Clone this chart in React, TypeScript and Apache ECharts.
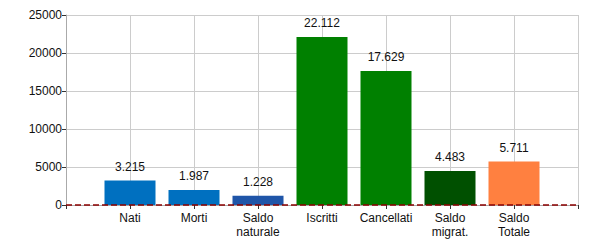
import React, { useEffect, useRef } from "react";
import * as echarts from "echarts";

const categories = ["", "Nati", "Morti", "Saldo\nnaturale", "Iscritti", "Cancellati", "Saldo\nmigrat.", "Saldo\nTotale", ""];
const values: (number | null)[] = [null, 3215, 1987, 1228, 22112, 17629, 4483, 5711, null];
const barColors = ["#0070c0", "#0070c0", "#0070c0", "#1f55a8", "#008000", "#008000", "#005000", "#ff8040", "#000"];
const yTicks = { min: 0, max: 25000, interval: 5000 };

const fmt = (v: number) => v.toString().replace(/\B(?=(\d{3})+(?!\d))/g, ".");

export default function App() {
  const ref = useRef<HTMLDivElement>(null);
  useEffect(() => {
    const chart = echarts.init(ref.current!, null, { renderer: "svg" });
    const font = "Arial, 'Liberation Sans', sans-serif";
    chart.setOption({
      animation: false,
      grid: { left: 66, right: 22, top: 15, bottom: 45, containLabel: false },
      xAxis: {
        type: "category",
        data: categories,
        boundaryGap: false,
        axisLine: { lineStyle: { color: "#aaa" } },
        axisTick: { show: true, length: 4, lineStyle: { color: "#333" } },
        axisLabel: { color: "#111", fontSize: 12, fontFamily: font, margin: 6, lineHeight: 14, interval: 0 },
        splitLine: { show: true, lineStyle: { color: "#ccc", width: 1 } },
      },
      yAxis: {
        type: "value",
        min: yTicks.min,
        max: yTicks.max,
        interval: yTicks.interval,
        axisLine: { show: true, lineStyle: { color: "#aaa" } },
        axisTick: { show: true, length: 4, lineStyle: { color: "#333" } },
        axisLabel: { color: "#111", fontSize: 12, fontFamily: font, margin: 4, formatter: (v: number) => String(v) },
        splitLine: { show: true, lineStyle: { color: "#ccc", width: 1 } },
      },
      series: [
        {
          type: "bar",
          barWidth: 51,
          data: values.map((v, i) => ({ value: v, itemStyle: { color: barColors[i] } })),
          label: {
            show: true,
            position: "top",
            distance: 8,
            color: "#111",
            fontSize: 12,
            fontFamily: font,
            formatter: (p: any) => (p.value == null ? "" : fmt(p.value)),
          },
          markLine: {
            silent: true,
            symbol: "none",
            label: { show: false },
            lineStyle: { color: "#8b0000", type: [6, 3], width: 1.5 },
            data: [{ yAxis: 0 }],
          },
        },
      ],
    });
    return () => chart.dispose();
  }, []);
  return <div ref={ref} style={{ width: 600, height: 250, margin: -8 }} />;
}
